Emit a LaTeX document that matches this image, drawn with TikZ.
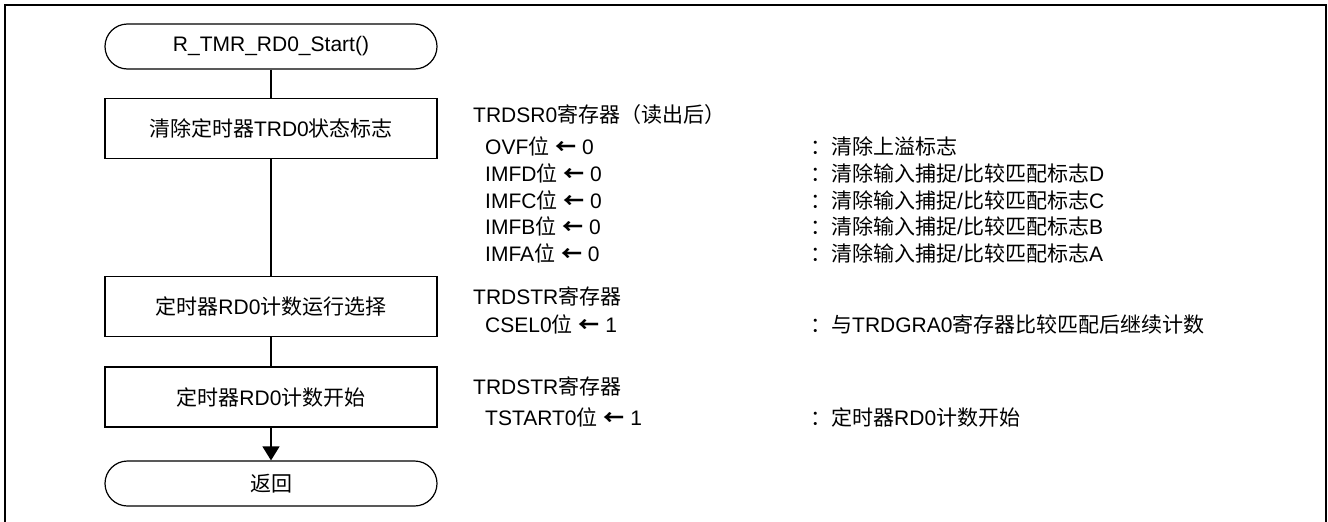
\documentclass[tikz,border=0pt]{standalone}
\usepackage{fontspec}
\setmainfont{Liberation Sans}
\newfontfamily\cjkfont{Noto Sans CJK SC}
\usetikzlibrary{arrows.meta}

% CJK characters (and the arrow) are set in the CJK font
\XeTeXinterchartokenstate=1
\newXeTeXintercharclass\cjkclass
\newXeTeXintercharclass\arrowclass
\newcount\cjkcode
\cjkcode="4E00
\loop
  \XeTeXcharclass\cjkcode=\cjkclass
  \advance\cjkcode by 1
\ifnum\cjkcode<"A000 \repeat
\XeTeXcharclass"FF08=\cjkclass
\XeTeXcharclass"FF09=\cjkclass
\XeTeXcharclass"FF1A=\cjkclass
\XeTeXcharclass"2190=\arrowclass
\XeTeXinterchartoks 0 \cjkclass={\cjkfont}
\XeTeXinterchartoks 4095 \cjkclass={\cjkfont}
\XeTeXinterchartoks \cjkclass 0={\rmfamily}
\XeTeXinterchartoks \cjkclass 4095={\rmfamily}
\XeTeXinterchartoks 4095 \arrowclass={\cjkfont\bfseries}
\XeTeXinterchartoks \arrowclass 4095={\rmfamily\mdseries}

\begin{document}
\begin{tikzpicture}[x=1pt,y=-1pt,
  every node/.style={font=\fontsize{21}{25}\selectfont},
  term/.style={draw,line width=1.2pt,rounded corners=22.5pt,minimum width=332pt,minimum height=45pt,inner sep=0pt},
  proc/.style={draw,line width=1.2pt,minimum width=332pt,minimum height=60pt,inner sep=0pt},
  reg/.style={anchor=base west,inner sep=0pt}]
\useasboundingbox (0,0) rectangle (1328,522);
\draw[line width=2pt] (5,522) -- (5,5) -- (1326,5) -- (1326,522);

% flow
\node[term] (start) at (271,46.5) {R\_TMR\_RD0\_Start()};
\node[proc] (clr) at (271,128.5) {清除定时器TRD0状态标志};
\node[proc] (sel) at (271,306.5) {定时器RD0计数运行选择};
\node[proc] (run) at (271,397) {定时器RD0计数开始};
\node[term] (ret) at (271,483.5) {返回};

\draw[line width=1.2pt] (start) -- (clr);
\draw[line width=1.2pt] (clr) -- (sel);
\draw[line width=1.2pt] (sel) -- (run);
\draw[line width=1.2pt,-{Triangle[width=17pt,length=14pt]}] (run) -- (ret);

% registers
\node[reg] (trdsr) at (473,122.5) {TRDSR0寄存器（读出后）};
\node[reg] (ovf) at (485,154.5) {OVF位 ← 0};
\node[reg] (ovfc) at (810,154.5) {：清除上溢标志};
\foreach \bit/\fl [count=\i] in {IMFD位/D,IMFC位/C,IMFB位/B,IMFA位/A}{
  \node[reg] (imf\fl) at (485,{154.5+26.75*\i}) {{\bit} ← 0};
  \node[reg] (imf\fl c) at (810,{154.5+26.75*\i}) {：清除输入捕捉/比较匹配标志\fl};
}

\node[reg] (trdstr1) at (473,304.5) {TRDSTR寄存器};
\node[reg] (csel) at (485,332.5) {CSEL0位 ← 1};
\node[reg] (cselc) at (810,332.5) {：与TRDGRA0寄存器比较匹配后继续计数};

\node[reg] (trdstr2) at (473,394.5) {TRDSTR寄存器};
\node[reg] (tstart) at (485,425.5) {TSTART0位 ← 1};
\node[reg] (tstartc) at (810,425.5) {：定时器RD0计数开始};
\end{tikzpicture}
\end{document}
